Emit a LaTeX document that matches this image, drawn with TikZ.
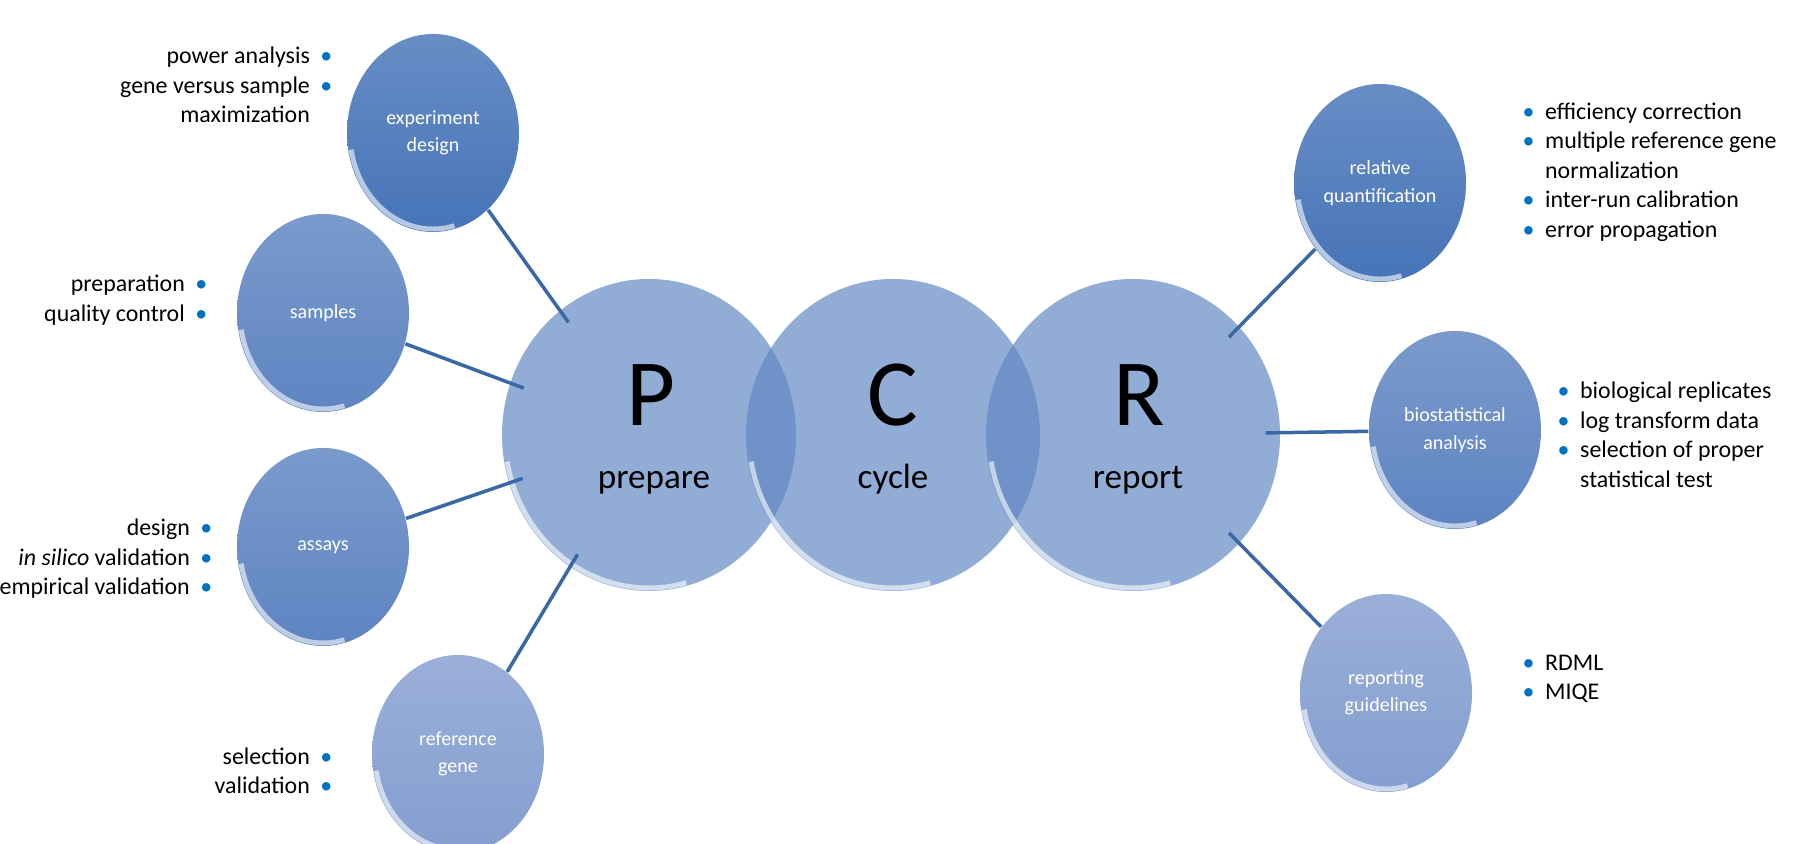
\documentclass[tikz,border=0pt]{standalone}
\usepackage{fontspec}
\setmainfont{Carlito}
\usetikzlibrary{shapes.geometric}

\definecolor{bigblue}{RGB}{146,173,213}
\definecolor{lensblue}{RGB}{112,146,200}
\definecolor{darkball}{RGB}{70,116,184}
\definecolor{midball}{RGB}{94,132,193}
\definecolor{lightball}{RGB}{132,158,208}
\definecolor{linkblue}{RGB}{58,104,166}
\definecolor{dotblue}{RGB}{0,112,192}

\newcommand{\dotR}{\hspace{3pt}\textcolor{dotblue}{\textbullet}}
\newcommand{\dotL}{\textcolor{dotblue}{\textbullet}\hspace{3pt}}

\tikzset{
  big/.style={ellipse, inner sep=0pt, minimum width=2.94cm, minimum height=3.12cm, fill=bigblue},
  ball/.style={ellipse, inner sep=0pt, minimum width=1.72cm, minimum height=1.98cm,
    align=center, text=white, font=\fontsize{5.7}{7.8}\selectfont,
    top color=#1!82!white, bottom color=#1},
  letter/.style={anchor=base, inner sep=0pt, font=\fontsize{27}{27}\selectfont},
  word/.style={anchor=base, inner sep=0pt, font=\fontsize{10}{11}\selectfont},
  leftlist/.style={anchor=east, align=right, inner sep=0pt, font=\fontsize{6.8}{8.4}\selectfont},
  rightlist/.style={anchor=west, align=left, inner sep=0pt, font=\fontsize{6.8}{8.4}\selectfont},
  link/.style={draw=linkblue, line width=1pt, shorten >=-0.15cm},
  rim/.style={draw=white, line width=1.4pt, opacity=0.6}
}

\begin{document}
\begin{tikzpicture}

      \useasboundingbox (0,0) rectangle (17.96,8.44);

      % P C R
      \node[big] (prep) at (6.49,4.09) {};
      \node[big] (cyc) at (8.93,4.09) {};
      \node[big] (rep) at (11.33,4.09) {};

      \begin{scope}
        \clip (prep.center) ellipse [x radius=1.47cm, y radius=1.56cm];
        \fill[lensblue] (cyc.center) ellipse [x radius=1.47cm, y radius=1.56cm];
      \end{scope}
      \begin{scope}
        \clip (cyc.center) ellipse [x radius=1.47cm, y radius=1.56cm];
        \fill[lensblue] (rep.center) ellipse [x radius=1.47cm, y radius=1.56cm];
      \end{scope}

      \foreach \n in {prep,cyc,rep}
      \draw[rim] ([shift={(190:1.44cm and 1.53cm)}]\n.center) arc[start angle=190, end angle=285, x radius=1.44cm, y radius=1.53cm];

      \node[letter] (prepL) at ([shift={(0.02,0.09)}]prep.center) {P};
      \node[word] (prepW) at ([shift={(0.05,-0.54)}]prep.center) {prepare};
      \node[letter] (cycL) at ([yshift=0.09cm]cyc.center) {C};
      \node[word] (cycW) at ([yshift=-0.54cm]cyc.center) {cycle};
      \node[letter] (repL) at ([shift={(0.06,0.09)}]rep.center) {R};
      \node[word] (repW) at ([shift={(0.05,-0.54)}]rep.center) {report};

      % small balls
      \node[ball=darkball] (expdesign) at (4.33,7.11) {experiment\\design};
      \node[ball=midball] (samples) at (3.23,5.31) {samples};
      \node[ball=midball] (assays) at (3.23,2.97) {assays};
      \node[ball=lightball] (refgene) at (4.58,0.90) {reference\\gene};
      \node[ball=darkball] (relquant) at (13.80,6.61) {relative\\quantification};
      \node[ball=midball] (biostat) at (14.55,4.14) {biostatistical\\analysis};
      \node[ball=lightball] (guidelines) at (13.86,1.51) {reporting\\guidelines};

      \foreach \n in {expdesign,samples,assays,refgene,relquant,biostat,guidelines}
      \draw[rim] ([shift={(190:0.83cm and 0.96cm)}]\n.center) arc[start angle=190, end angle=285, x radius=0.83cm, y radius=0.96cm];

      % links
      \draw[link] (expdesign) -- (prep);
      \draw[link] (samples) -- (prep);
      \draw[link] (assays) -- (prep);
      \draw[link] (refgene) -- (prep);
      \draw[link] (relquant) -- (rep);
      \draw[link] (biostat) -- (rep);
      \draw[link] (guidelines) -- (rep);

      % lists
      \node[leftlist] (explist) at (3.33,7.59) {power analysis\dotR\\gene versus sample\dotR\\maximization\phantom{\dotR}};
      \node[leftlist] (samplist) at (2.08,5.44) {preparation\dotR\\quality control\dotR};
      \node[leftlist] (assaylist) at (2.13,2.85) {design\dotR\\\textit{in silico} validation\dotR\\empirical validation\dotR};
      \node[leftlist] (genelist) at (3.33,0.73) {selection\dotR\\validation\dotR};

      \node[rightlist] (quantlist) at (15.22,6.72) {\dotL efficiency correction\\\dotL multiple reference gene\\\phantom{\dotL}normalization\\\dotL inter-run calibration\\\dotL error propagation};
      \node[rightlist] (statlist) at (15.57,4.09) {\dotL biological replicates\\\dotL log transform data\\\dotL selection of proper\\\phantom{\dotL}statistical test};
      \node[rightlist] (reportlist) at (15.22,1.65) {\dotL RDML\\\dotL MIQE};

\end{tikzpicture}
\end{document}
